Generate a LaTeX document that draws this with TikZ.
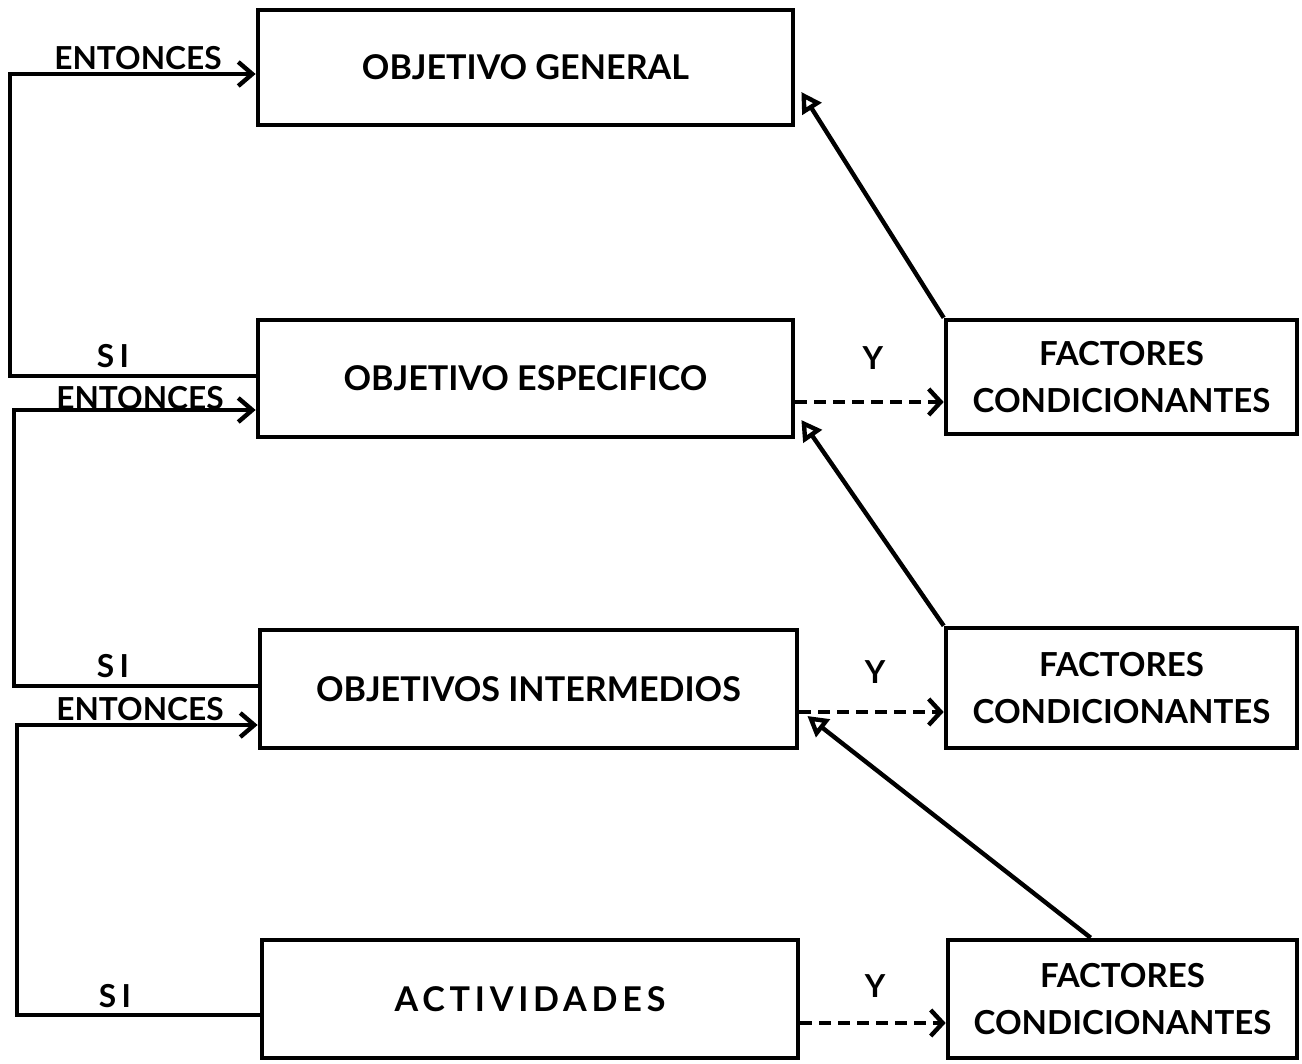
\documentclass[tikz,border=0pt]{standalone}
\usepackage{fontspec}
\setmainfont{Lato}
\usetikzlibrary{arrows.meta,calc}
\begin{document}
\begin{tikzpicture}[x=0.01cm,y=-0.01cm,
  box/.style={draw,line width=1.25pt,inner sep=0pt,font=\bfseries\fontsize{9.7}{12}\selectfont},
  fbox/.style={box,align=center,font=\bfseries\fontsize{9.4}{13.2}\selectfont},
  loop/.style={line width=1.25pt,-{Straight Barb[length=0.14cm,width=0.24cm,line width=1.25pt]}},
  dasharr/.style={line width=1.25pt,dash pattern=on 0.12cm off 0.07cm,-{Straight Barb[length=0.12cm,width=0.26cm,line width=1.25pt]}},
  diag/.style={line width=1.25pt,-{Triangle[open,length=0.2cm,width=0.22cm,line width=1.25pt]}},
  lbl/.style={font=\bfseries\fontsize{9}{11}\selectfont,inner sep=0pt}]
\useasboundingbox (0,0) rectangle (1302,1064);
% main boxes
\node[box,minimum width=5.35cm,minimum height=1.15cm] (OG) at (525.5,67.5) {OBJETIVO GENERAL};
\node[box,minimum width=5.35cm,minimum height=1.17cm] (OE) at (525.5,378.5) {OBJETIVO ESPECIFICO};
\node[box,minimum width=5.37cm,minimum height=1.18cm] (OI) at (528.5,689) {OBJETIVOS INTERMEDIOS};
\node[box,minimum width=5.36cm,minimum height=1.18cm] (AC) at (530,999) {\addfontfeature{LetterSpace=14}ACTIVIDADES};
% factor boxes
\node[fbox,minimum width=3.51cm,minimum height=1.14cm] (F1) at (1121.5,377) {FACTORES\\CONDICIONANTES};
\node[fbox,minimum width=3.51cm,minimum height=1.20cm] (F2) at (1121.5,688) {FACTORES\\CONDICIONANTES};
\node[fbox,minimum width=3.49cm,minimum height=1.18cm] (F3) at (1122.5,999) {FACTORES\\CONDICIONANTES};
% left loops
\draw[loop] (OE.west |- 0,376) -| (10,74) -- (OG.west |- 0,74);
\draw[loop] (OI.west |- 0,686) -| (14,410) -- (OE.west |- 0,410);
\draw[loop] (AC.west |- 0,1015) -| (17,725) -- (OI.west |- 0,725);
% loop labels
\node[lbl] (e1) at (138,58) {ENTONCES};
\node[lbl] (s1) at (113,356) {S\,I};
\node[lbl] (e2) at (140,398) {ENTONCES};
\node[lbl] (s2) at (113,666) {S\,I};
\node[lbl] (e3) at (140,709) {ENTONCES};
\node[lbl] (s3) at (115,996) {S\,I};
% dashed arrows
\draw[dasharr] (OE.east |- 0,402) -- (F1.west |- 0,402);
\draw[dasharr] (OI.east |- 0,712) -- (F2.west |- 0,712);
\draw[dasharr] (AC.east |- 0,1023) -- (F3.west |- 0,1023);
\node[lbl] (y1) at (873,358) {Y};
\node[lbl] (y2) at (875,672) {Y};
\node[lbl] (y3) at (875,986) {Y};
% diagonal arrows
\draw[diag] (F1.north west) -- ($(OG.east |- 0,92)+(6,0)$);
\draw[diag] (F2.north west) -- ($(OE.east |- 0,420)+(6,0)$);
\draw[diag] ($(F3.north west)!0.41!(F3.north east)$) -- ($(OI.east |- 0,716)+(8,0)$);
\end{tikzpicture}
\end{document}
